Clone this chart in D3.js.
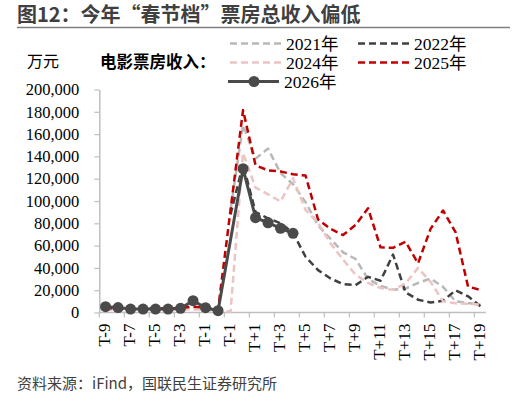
<!DOCTYPE html>
<html>
<head>
<meta charset="utf-8">
<script src="https://cdn.jsdelivr.net/npm/d3@7"></script>
<style>
  body { margin: 0; background: #fff; }
  svg { display: block; }
</style>
</head>
<body>
<svg id="chart" width="516" height="400"></svg>
<script>
// Categories (days around Spring Festival), one every 12.5px
const categories = [
    "T-9", "T-8", "T-7", "T-6", "T-5", "T-4", "T-3", "T-2", "T-1", "T",
    "T-1", "T", "T+1", "T+2", "T+3", "T+4", "T+5", "T+6", "T+7", "T+8",
    "T+9", "T+10", "T+11", "T+12", "T+13", "T+14", "T+15", "T+16", "T+17", "T+18",
    "T+19"
];

// Box office, 万元 (null = no value)
const y2021 = [
    null, null, null, null, null, null, null, null, null, null,
    92000, 168000, 138000, 147000, 125000, 115000, 99000, 78000, 66000, 54000,
    48000, 30000, 24000, 20500, 21500, 26500, 30500, 23000, 10000, 8500,
    7000
];
const y2022 = [
    null, null, null, null, null, null, null, null, null, null,
    88000, 133000, 90000, 84500, 80000, 71500, 50000, 38000, 30500, 25500,
    24500, 32000, 28500, 52000, 18000, 11500, 9000, 10500, 20000, 14500,
    5500
];
const y2024 = [
    2500, 2300, 2000, 2200, 2400, 2300, 2600, 3000, 2500, 1500,
    800, 143000, 112000, 106000, 99500, 120300, 92000, 80500, 62000, 47500,
    34000, 26500, 22000, 20300, 26000, 40000, 27500, 10000, 8200, 7800,
    7200
];
const y2025 = [
    4000, 3800, 3500, 3600, 3800, 3700, 4000, 5200, 4500, 2500,
    92000, 181500, 132000, 127500, 126500, 124000, 122800, 83500, 75000, 69500,
    78500, 93400, 58500, 58000, 63500, 44100, 75000, 91500, 72000, 23200,
    20200
];
const y2026 = [
    5200, 4400, 3100, 3100, 3100, 3100, 3700, 10600, 4300, 1600,
    null, 129000, 85000, 80500, 75500, 71000, null, null, null, null,
    null, null, null, null, null, null, null, null, null, null,
    null
];

const yTicks = [0, 20000, 40000, 60000, 80000, 100000, 120000, 140000, 160000, 180000, 200000];

// Series styles
const series = [
    { name: "2021年", values: y2021, color: "#b8b8b8", dash: "7,4", width: 2.5 },
    { name: "2022年", values: y2022, color: "#404040", dash: "7,4", width: 2.5 },
    { name: "2024年", values: y2024, color: "#ecc4c3", dash: "7,4", width: 2.5 },
    { name: "2025年", values: y2025, color: "#c00000", dash: "7,4", width: 2.5 },
    { name: "2026年", values: y2026, color: "#4a4a4a", dash: null, width: 3, marker: true }
];

const serif = "'Liberation Serif', 'Times New Roman', 'Noto Sans CJK SC', serif";
const cjk = "'Noto Sans CJK SC', 'Noto Sans', sans-serif";

const svg = d3.select("#chart");

// Title and rule
svg.append("text")
    .attr("x", 17)
    .attr("y", 22)
    .attr("font-family", cjk)
    .attr("font-size", 20)
    .attr("font-weight", "bold")
    .attr("fill", "#404040")
    .text("图12：今年“春节档”票房总收入偏低");

svg.append("line")
    .attr("x1", 17).attr("x2", 510)
    .attr("y1", 27.5).attr("y2", 27.5)
    .attr("stroke", "#7f7f7f")
    .attr("stroke-width", 1.5);

// Scales
const x = d3.scaleBand()
    .domain(d3.range(categories.length))
    .range([99.3, 99.3 + 12.5 * categories.length])
    .padding(0);

const y = d3.scaleLinear()
    .domain([0, 200000])
    .range([312.5, 89.5]);

const axisColor = "#bfbfbf";

// Y axis
const yAxis = svg.append("g")
    .attr("transform", `translate(${x.range()[0]},0)`)
    .call(d3.axisLeft(y)
        .tickValues(yTicks)
        .tickFormat(d3.format(","))
        .tickSize(5)
        .tickSizeOuter(0)
        .tickPadding(15));
yAxis.select(".domain").attr("stroke", axisColor).attr("stroke-width", 1.5);
yAxis.selectAll(".tick line").attr("stroke", axisColor).attr("stroke-width", 1.2);
yAxis.selectAll(".tick text")
    .attr("font-family", serif)
    .attr("font-size", 16.5)
    .attr("fill", "#000");

// X axis: line, ticks at every second band edge, rotated labels
const xAxis = svg.append("g");
xAxis.append("line")
    .attr("x1", x.range()[0]).attr("x2", x.range()[1] - 1)
    .attr("y1", y(0)).attr("y2", y(0))
    .attr("stroke", axisColor)
    .attr("stroke-width", 1.5);

const labelIdx = d3.range(categories.length).filter((i) => i % 2 === 0);

xAxis.selectAll(".xtick")
    .data(labelIdx)
    .enter()
    .append("line")
    .attr("x1", (i) => x(i)).attr("x2", (i) => x(i))
    .attr("y1", y(0)).attr("y2", y(0) + 5)
    .attr("stroke", axisColor)
    .attr("stroke-width", 1.2);

xAxis.selectAll(".xlabel")
    .data(labelIdx)
    .enter()
    .append("text")
    .attr("transform", (i) => `translate(${x(i) + x.bandwidth() / 2 + 4.5},${y(0) + 11}) rotate(-90)`)
    .attr("text-anchor", "end")
    .attr("font-family", serif)
    .attr("font-size", 17)
    .attr("fill", "#000")
    .text((i) => categories[i]);

// Lines (nulls skipped, neighbours joined)
const line = d3.line()
    .x((d) => x(d.i) + x.bandwidth() / 2)
    .y((d) => y(d.v));

series.forEach((s) => {
    const pts = s.values
        .map((v, i) => ({ i, v }))
        .filter((d) => d.v !== null);

    svg.append("path")
        .datum(pts)
        .attr("d", line)
        .attr("fill", "none")
        .attr("stroke", s.color)
        .attr("stroke-width", s.width)
        .attr("stroke-dasharray", s.dash)
        .attr("stroke-linejoin", "round");

    if (s.marker) {
        svg.append("g")
            .selectAll("circle")
            .data(pts)
            .enter()
            .append("circle")
            .attr("cx", (d) => x(d.i) + x.bandwidth() / 2)
            .attr("cy", (d) => y(d.v))
            .attr("r", 5.5)
            .attr("fill", s.color);
    }
});

// Axis unit and legend
svg.append("text")
    .attr("x", 27).attr("y", 67)
    .attr("font-family", cjk)
    .attr("font-size", 16)
    .attr("fill", "#000")
    .text("万元");

svg.append("text")
    .attr("x", 100).attr("y", 68)
    .attr("font-family", cjk)
    .attr("font-size", 16.5)
    .attr("font-weight", "bold")
    .attr("fill", "#000")
    .text("电影票房收入：");

// Legend slots: [x of line start, y]
const legendPos = [[230, 43.5], [358, 43.5], [230, 62.5], [358, 62.5], [228, 81.5]];

series.forEach((s, k) => {
    const [lx, ly] = legendPos[k];
    const g = svg.append("g");
    g.append("line")
        .attr("x1", lx).attr("x2", lx + 51)
        .attr("y1", ly).attr("y2", ly)
        .attr("stroke", s.color)
        .attr("stroke-width", s.width)
        .attr("stroke-dasharray", s.dash);
    if (s.marker) {
        g.append("circle")
            .attr("cx", lx + 26).attr("cy", ly)
            .attr("r", 5.5)
            .attr("fill", s.color);
    }
    g.append("text")
        .attr("x", lx + 56).attr("y", ly + 6)
        .attr("font-family", serif)
        .attr("font-size", 17.5)
        .attr("fill", "#000")
        .text(s.name);
});

// Source note
svg.append("text")
    .attr("x", 17).attr("y", 389)
    .attr("font-family", cjk)
    .attr("font-size", 15)
    .attr("fill", "#404040")
    .text("资料来源：iFind，国联民生证券研究所");
</script>
</body>
</html>
